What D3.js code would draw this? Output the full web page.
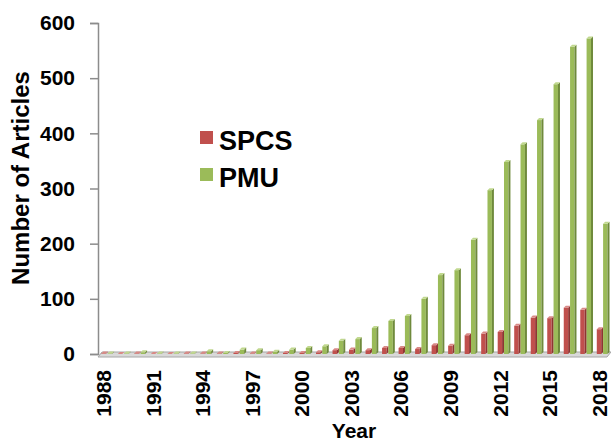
<!DOCTYPE html>
<html><head><meta charset="utf-8">
<script src="https://cdn.jsdelivr.net/npm/d3@7"></script>
<style>
html,body{margin:0;padding:0;background:#fff;}
text{font-family:"Liberation Sans",Arial,sans-serif;font-weight:bold;fill:#000;}
</style></head>
<body>
<svg id="chart" width="611" height="442"></svg>
<script>
const years = d3.range(1988, 2019).map(String);
const seriesNames = ["SPCS", "PMU"];
const spcs = [1,0,1,0,0,1,1,1,2,1,1,2,2,3,7,8,7,11,11,9,16,15,34,37,40,51,66,65,84,80,45];
const pmu  = [1,1,3,1,1,1,5,2,8,7,4,8,11,14,24,27,47,60,69,100,143,152,207,297,348,380,424,489,557,572,236];
const yTicks = [0,100,200,300,400,500,600];
const xTickYears = ["1988","1991","1994","1997","2000","2003","2006","2009","2012","2015","2018"];
const colors = {SPCS:"#C0504D", PMU:"#9BBB59"};
const sideColors = {SPCS:"#8E3532", PMU:"#6F8A3C"};
const topColors = {SPCS:"#D98986", PMU:"#C0D88E"};

const svg = d3.select("#chart");
const mLeft = 98, mRight = 610, mTop = 23, mBottom = 354;

const x0 = d3.scaleBand().domain(years).range([mLeft, mRight]);
const bw = x0.bandwidth();
const x1 = d3.scaleBand().domain(seriesNames).range([bw*0.2, bw*0.85]).paddingInner(0.3);
const y = d3.scaleLinear().domain([0,600]).range([mBottom, mTop]);

// floor
svg.append("polygon")
  .attr("points", [[mLeft,mBottom+3],[mRight-3,mBottom+3],[mRight+1,mBottom-2],[mLeft+4,mBottom-2]].map(p=>p.join(",")).join(" "))
  .attr("fill","#d9d9d9").attr("stroke","#a6a6a6").attr("stroke-width",1);

// y axis
const yAxis = svg.append("g").attr("transform",`translate(${mLeft},0)`)
  .call(d3.axisLeft(y).tickValues(yTicks).tickSize(8).tickPadding(15).tickFormat(d3.format("d")));
yAxis.select(".domain").attr("stroke","#8c8c8c").attr("stroke-width",1.5);
yAxis.selectAll(".tick line").attr("stroke","#8c8c8c").attr("stroke-width",1.5);
yAxis.selectAll("text").style("font-size","21px").attr("font-family",null).attr("fill","#000");

// bars
const data = years.map((yr,i)=>({year:yr, SPCS:spcs[i], PMU:pmu[i]}));
const dep = 2; // depth offset
const groups = svg.append("g").selectAll("g").data(data).join("g")
  .attr("transform", r=>`translate(${x0(r.year)},0)`);
seriesNames.forEach(s=>{
  const w = x1.bandwidth();
  groups.append("rect")
    .attr("x", x1(s)).attr("y", r=>y(r[s])).attr("width", w)
    .attr("height", r=>mBottom - y(r[s])).attr("fill", colors[s]);
  groups.append("polygon")
    .attr("points", r=>{
      const xa = x1(s)+w, yt = y(r[s]);
      return [[xa,yt],[xa+dep,yt-dep],[xa+dep,mBottom-dep],[xa,mBottom]].map(p=>p.join(",")).join(" ");
    }).attr("fill", sideColors[s]);
  groups.append("polygon")
    .attr("points", r=>{
      const xa = x1(s), yt = y(r[s]);
      return [[xa,yt],[xa+dep,yt-dep],[xa+w+dep,yt-dep],[xa+w,yt]].map(p=>p.join(",")).join(" ");
    }).attr("fill", topColors[s]);
});

// x labels
svg.append("g").selectAll("text").data(xTickYears).join("text")
  .attr("transform", t=>`translate(${x0(t)+bw/2-2.5},370) rotate(-90)`)
  .attr("text-anchor","end").attr("dy","0.35em").style("font-size","21px").text(t=>t);

// axis titles
svg.append("text").attr("x",(mLeft+mRight)/2).attr("y",438).attr("text-anchor","middle")
  .style("font-size","21px").text("Year");
svg.append("text").attr("transform","translate(21,178) rotate(-90)")
  .attr("text-anchor","middle").attr("dy","0.35em").style("font-size","24px").text("Number of Articles");

// legend
const legend = svg.append("g");
seriesNames.forEach((s,i)=>{
  legend.append("rect").attr("x",200).attr("y",131+i*37).attr("width",13).attr("height",13).attr("fill",colors[s]);
  legend.append("text").attr("x",219).attr("y",150+i*37).style("font-size","27px").text(s);
});
</script>
</body></html>
